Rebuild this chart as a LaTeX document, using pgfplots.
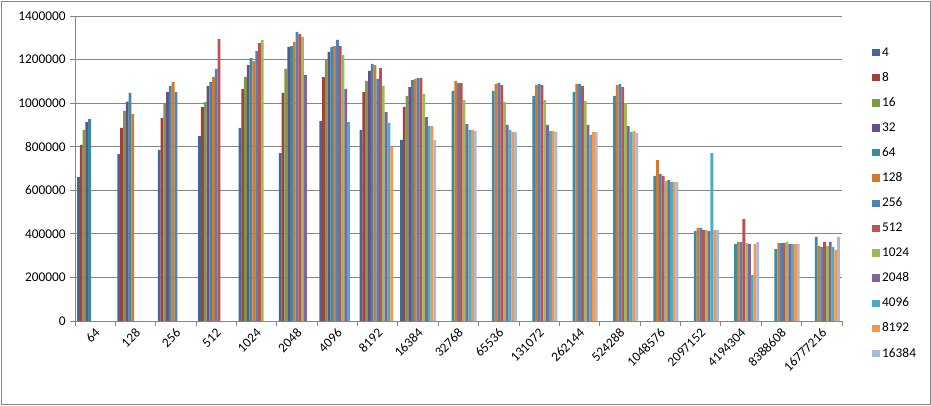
\documentclass[border=0pt]{standalone}
\usepackage{pgfplots}
\pgfplotsset{compat=1.18}
\usepackage{fontspec}
\setmainfont{Carlito}

\definecolor{c1}{HTML}{416897}
\definecolor{c2}{HTML}{A3403D}
\definecolor{c3}{HTML}{7E9A48}
\definecolor{c4}{HTML}{684F87}
\definecolor{c5}{HTML}{3B8CA2}
\definecolor{c6}{HTML}{D47A2E}
\definecolor{c7}{HTML}{4F81BD}
\definecolor{c8}{HTML}{C0504D}
\definecolor{c9}{HTML}{9BBB59}
\definecolor{c10}{HTML}{8064A2}
\definecolor{c11}{HTML}{4BACC6}
\definecolor{c12}{HTML}{F79646}
\definecolor{c13}{HTML}{AAB9D8}
\definecolor{gridgray}{HTML}{868686}

\begin{document}
\begin{tikzpicture}
\useasboundingbox (0,0) rectangle (698.25pt,303.75pt);
\draw[gridgray, line width=0.75pt] (0.75pt,0.75pt) rectangle (697.5pt,303pt);
\begin{axis}[
    at={(56.25pt,63pt)}, anchor=south west,
    scale only axis,
    width=575.25pt, height=228.75pt,
    ybar=0pt,
    bar width=0.069,
    xmin=-0.5, xmax=18.5,
    ymin=0, ymax=1400000,
    xtick={0,...,18},
    xticklabels={64,128,256,512,1024,2048,4096,8192,16384,32768,65536,131072,262144,524288,1048576,2097152,4194304,8388608,16777216},
    major x tick style={draw=none},
    minor xtick={-0.5,0.5,...,18.5},
    ytick={0,200000,...,1400000},
    scaled y ticks=false,
    yticklabel style={/pgf/number format/fixed, /pgf/number format/1000 sep={}, /pgf/number format/assume math mode=true},
    xticklabel style={rotate=45, anchor=east, xshift=2pt, yshift=-4pt},
    tick label style={font=\fontsize{10}{12}\selectfont},
    tick align=outside,
    major tick length=3.5pt, minor tick length=3.5pt,
    tick style={gridgray, line width=0.75pt},
    axis x line*=bottom, axis y line*=left,
    axis line style={gridgray, line width=0.75pt},
    ymajorgrids,
    grid style={gridgray, line width=0.75pt},
    legend style={at={(1.034,0.915)}, anchor=north west, draw=none,
        font=\fontsize{10}{12}\selectfont, row sep=6.6pt,
        cells={anchor=west}},
    legend image code/.code={\fill[#1] (0pt,-2.7pt) rectangle (5.4pt,2.7pt);},
    every axis plot/.append style={draw=none},
]
\addplot[fill=c1] coordinates {(0,661000)(1,766000)(2,785000)(3,849000)(4,886000)(5,771000)(6,918000)(7,877000)(8,831000)};
\addlegendentry{4}
\addplot[fill=c2] coordinates {(0,808000)(1,887000)(2,932000)(3,982000)(4,1065000)(5,1047000)(6,1120000)(7,1051000)(8,982000)};
\addlegendentry{8}
\addplot[fill=c3] coordinates {(0,877000)(1,964000)(2,999000)(3,1005000)(4,1120000)(5,1157000)(6,1198000)(7,1102000)(8,1033000)};
\addlegendentry{16}
\addplot[fill=c4] coordinates {(0,913000)(1,1007000)(2,1051000)(3,1079000)(4,1175000)(5,1258000)(6,1235000)(7,1148000)(8,1074000)};
\addlegendentry{32}
\addplot[fill=c5] coordinates {(0,927000)(1,1047000)(2,1079000)(3,1097000)(4,1207000)(5,1262000)(6,1258000)(7,1180000)(8,1106000)(9,1056000)(10,1056000)(11,1033000)(12,1051000)(13,1033000)(14,666000)(15,413000)(16,353000)(17,330000)(18,386000)};
\addlegendentry{64}
\addplot[fill=c6] coordinates {(1,950000)(2,1097000)(3,1120000)(4,1193000)(5,1281000)(6,1262000)(7,1175000)(8,1111000)(9,1102000)(10,1088000)(11,1083000)(12,1088000)(13,1083000)(14,739000)(15,427000)(16,363000)(17,358000)(18,344000)};
\addlegendentry{128}
\addplot[fill=c7] coordinates {(2,1051000)(3,1157000)(4,1239000)(5,1327000)(6,1290000)(7,1111000)(8,1115000)(9,1092000)(10,1092000)(11,1088000)(12,1088000)(13,1088000)(14,675000)(15,427000)(16,363000)(17,358000)(18,340000)};
\addlegendentry{256}
\addplot[fill=c8] coordinates {(3,1294000)(4,1276000)(5,1317000)(6,1262000)(7,1161000)(8,1115000)(9,1092000)(10,1083000)(11,1083000)(12,1079000)(13,1074000)(14,666000)(15,418000)(16,468000)(17,358000)(18,363000)};
\addlegendentry{512}
\addplot[fill=c9] coordinates {(4,1290000)(5,1304000)(6,1221000)(7,1079000)(8,1042000)(9,1014000)(10,1005000)(11,1014000)(12,1010000)(13,999000)(14,643000)(15,418000)(16,358000)(17,363000)(18,344000)};
\addlegendentry{1024}
\addplot[fill=c10] coordinates {(5,1129000)(6,1065000)(7,959000)(8,936000)(9,904000)(10,900000)(11,900000)(12,900000)(13,895000)(14,647000)(15,413000)(16,353000)(17,353000)(18,363000)};
\addlegendentry{2048}
\addplot[fill=c11] coordinates {(6,913000)(7,909000)(8,895000)(9,877000)(10,877000)(11,872000)(12,854000)(13,868000)(14,638000)(15,771000)(16,211000)(17,353000)(18,340000)};
\addlegendentry{4096}
\addplot[fill=c12] coordinates {(7,799000)(8,895000)(9,877000)(10,868000)(11,872000)(12,868000)(13,872000)(14,638000)(15,418000)(16,353000)(17,353000)(18,326000)};
\addlegendentry{8192}
\addplot[fill=c13] coordinates {(8,831000)(9,872000)(10,868000)(11,868000)(12,868000)(13,863000)(14,638000)(15,418000)(16,363000)(17,353000)(18,386000)};
\addlegendentry{16384}
\end{axis}
\end{tikzpicture}
\end{document}
